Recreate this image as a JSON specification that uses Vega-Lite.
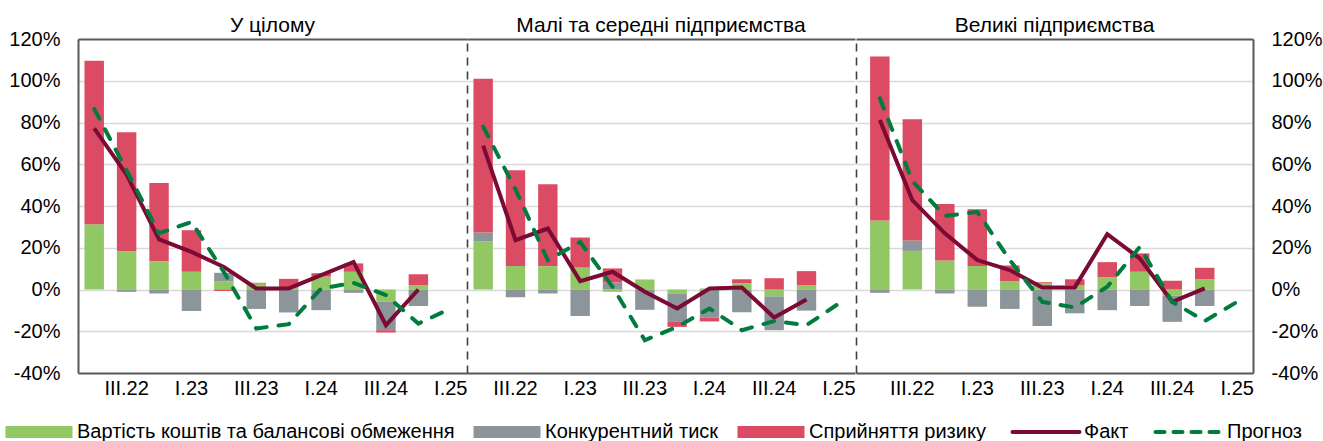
{
  "$schema": "https://vega.github.io/schema/vega-lite/v6.json",
  "padding": {"left": 8, "top": 15, "right": 5, "bottom": 0},
  "datasets": {
    "bars": [
      {"p": 1, "q": "II.22", "Вартість коштів та балансові обмеження": 31.3, "Конкурентний тиск": 0, "Сприйняття ризику": 78.3},
      {"p": 1, "q": "III.22", "Вартість коштів та балансові обмеження": 18.4, "Конкурентний тиск": -1.1, "Сприйняття ризику": 56.9},
      {"p": 1, "q": "IV.22", "Вартість коштів та балансові обмеження": 13.6, "Конкурентний тиск": -1.9, "Сприйняття ризику": 37.4},
      {"p": 1, "q": "I.23", "Вартість коштів та балансові обмеження": 8.5, "Конкурентний тиск": -10.3, "Сприйняття ризику": 19.9},
      {"p": 1, "q": "II.23", "Вартість коштів та балансові обмеження": 4.0, "Конкурентний тиск": 4.0, "Сприйняття ризику": -0.7},
      {"p": 1, "q": "III.23", "Вартість коштів та балансові обмеження": 2.8, "Конкурентний тиск": -9.3, "Сприйняття ризику": 0.4},
      {"p": 1, "q": "IV.23", "Вартість коштів та балансові обмеження": 1.2, "Конкурентний тиск": -11.0, "Сприйняття ризику": 3.9},
      {"p": 1, "q": "I.24", "Вартість коштів та балансові обмеження": 6.2, "Конкурентний тиск": -9.9, "Сприйняття ризику": 1.6},
      {"p": 1, "q": "II.24", "Вартість коштів та балансові обмеження": 8.5, "Конкурентний тиск": -1.6, "Сприйняття ризику": 4.0},
      {"p": 1, "q": "III.24", "Вартість коштів та балансові обмеження": -5.9, "Конкурентний тиск": -13.6, "Сприйняття ризику": -1.1},
      {"p": 1, "q": "IV.24", "Вартість коштів та балансові обмеження": 2.1, "Конкурентний тиск": -7.9, "Сприйняття ризику": 5.2},
      {"p": 2, "q": "II.22", "Вартість коштів та балансові обмеження": 23.0, "Конкурентний тиск": 4.3, "Сприйняття ризику": 73.6},
      {"p": 2, "q": "III.22", "Вартість коштів та балансові обмеження": 11.2, "Конкурентний тиск": -3.7, "Сприйняття ризику": 45.9},
      {"p": 2, "q": "IV.22", "Вартість коштів та балансові обмеження": 11.2, "Конкурентний тиск": -1.9, "Сприйняття ризику": 39.2},
      {"p": 2, "q": "I.23", "Вартість коштів та балансові обмеження": 10.5, "Конкурентний тиск": -12.7, "Сприйняття ризику": 14.4},
      {"p": 2, "q": "II.23", "Вартість коштів та балансові обмеження": -1.1, "Конкурентний тиск": 3.4, "Сприйняття ризику": 6.7},
      {"p": 2, "q": "III.23", "Вартість коштів та балансові обмеження": 4.8, "Конкурентний тиск": -9.4, "Сприйняття ризику": -0.3},
      {"p": 2, "q": "IV.23", "Вартість коштів та балансові обмеження": -2.1, "Конкурентний тиск": -13.4, "Сприйняття ризику": -2.4},
      {"p": 2, "q": "I.24", "Вартість коштів та балансові обмеження": 0.5, "Конкурентний тиск": -13.4, "Сприйняття ризику": -1.9},
      {"p": 2, "q": "II.24", "Вартість коштів та балансові обмеження": 3.0, "Конкурентний тиск": -10.9, "Сприйняття ризику": 1.9},
      {"p": 2, "q": "III.24", "Вартість коштів та балансові обмеження": -3.3, "Конкурентний тиск": -16.2, "Сприйняття ризику": 5.4},
      {"p": 2, "q": "IV.24", "Вартість коштів та балансові обмеження": 2.1, "Конкурентний тиск": -10.1, "Сприйняття ризику": 6.7},
      {"p": 3, "q": "II.22", "Вартість коштів та балансові обмеження": 33.1, "Конкурентний тиск": -1.6, "Сприйняття ризику": 78.5},
      {"p": 3, "q": "III.22", "Вартість коштів та балансові обмеження": 18.5, "Конкурентний тиск": 5.0, "Сприйняття ризику": 58.0},
      {"p": 3, "q": "IV.22", "Вартість коштів та балансові обмеження": 13.9, "Конкурентний тиск": -1.9, "Сприйняття ризику": 27.0},
      {"p": 3, "q": "I.23", "Вартість коштів та балансові обмеження": 11.3, "Конкурентний тиск": -8.3, "Сприйняття ризику": 27.1},
      {"p": 3, "q": "II.23", "Вартість коштів та балансові обмеження": 4.0, "Конкурентний тиск": -9.3, "Сприйняття ризику": 7.5},
      {"p": 3, "q": "III.23", "Вартість коштів та балансові обмеження": 2.9, "Конкурентний тиск": -17.5, "Сприйняття ризику": 0.6},
      {"p": 3, "q": "IV.23", "Вартість коштів та балансові обмеження": 2.1, "Конкурентний тиск": -11.4, "Сприйняття ризику": 2.8},
      {"p": 3, "q": "I.24", "Вартість коштів та балансові обмеження": 5.9, "Конкурентний тиск": -9.9, "Сприйняття ризику": 7.2},
      {"p": 3, "q": "II.24", "Вартість коштів та балансові обмеження": 8.5, "Конкурентний тиск": -7.9, "Сприйняття ризику": 8.8},
      {"p": 3, "q": "III.24", "Вартість коштів та балансові обмеження": -3.0, "Конкурентний тиск": -12.5, "Сприйняття ризику": 4.2},
      {"p": 3, "q": "IV.24", "Вартість коштів та балансові обмеження": 4.9, "Конкурентний тиск": -7.9, "Сприйняття ризику": 5.5}
    ],
    "lines": [
      {"p": 1, "q": "II.22", "fact": 77.2, "fc": 86.5},
      {"p": 1, "q": "III.22", "fact": 55.0, "fc": 57.0},
      {"p": 1, "q": "IV.22", "fact": 24.0, "fc": 26.9},
      {"p": 1, "q": "I.23", "fact": 18.0, "fc": 32.4},
      {"p": 1, "q": "II.23", "fact": 10.8, "fc": 8.4},
      {"p": 1, "q": "III.23", "fact": 0.5, "fc": -18.7},
      {"p": 1, "q": "IV.23", "fact": 0.5, "fc": -16.6},
      {"p": 1, "q": "I.24", "fact": 6.9, "fc": 0.5},
      {"p": 1, "q": "II.24", "fact": 13.2, "fc": 3.2},
      {"p": 1, "q": "III.24", "fact": -17.1, "fc": -2.7},
      {"p": 1, "q": "IV.24", "fact": 0.0, "fc": -16.3},
      {"p": 1, "q": "I.25", "fact": null, "fc": -9.1},
      {"p": 2, "q": "II.22", "fact": 68.9, "fc": 78.0},
      {"p": 2, "q": "III.22", "fact": 23.6, "fc": 48.0},
      {"p": 2, "q": "IV.22", "fact": 29.2, "fc": 14.0},
      {"p": 2, "q": "I.23", "fact": 4.0, "fc": 22.8},
      {"p": 2, "q": "II.23", "fact": 8.5, "fc": 1.3},
      {"p": 2, "q": "III.23", "fact": -1.1, "fc": -24.3},
      {"p": 2, "q": "IV.23", "fact": -9.1, "fc": -17.9},
      {"p": 2, "q": "I.24", "fact": 0.5, "fc": -9.1},
      {"p": 2, "q": "II.24", "fact": 1.0, "fc": -19.5},
      {"p": 2, "q": "III.24", "fact": -13.4, "fc": -15.1},
      {"p": 2, "q": "IV.24", "fact": -4.8, "fc": -17.1},
      {"p": 2, "q": "I.25", "fact": null, "fc": -6.7},
      {"p": 3, "q": "II.22", "fact": 81.2, "fc": 91.6},
      {"p": 3, "q": "III.22", "fact": 42.8, "fc": 52.0},
      {"p": 3, "q": "IV.22", "fact": 26.9, "fc": 35.2},
      {"p": 3, "q": "I.23", "fact": 14.1, "fc": 37.2},
      {"p": 3, "q": "II.23", "fact": 9.3, "fc": 14.1},
      {"p": 3, "q": "III.23", "fact": 1.0, "fc": -5.9},
      {"p": 3, "q": "IV.23", "fact": 1.0, "fc": -8.6},
      {"p": 3, "q": "I.24", "fact": 26.5, "fc": 1.3},
      {"p": 3, "q": "II.24", "fact": 14.9, "fc": 20.4},
      {"p": 3, "q": "III.24", "fact": -5.9, "fc": -5.9},
      {"p": 3, "q": "IV.24", "fact": 0.5, "fc": -15.1},
      {"p": 3, "q": "I.25", "fact": null, "fc": -5.9}
    ]
  },
  "config": {
    "font": "Liberation Sans",
    "view": {"stroke": null},
    "axis": {
      "labelFontSize": 20,
      "labelColor": "#000000",
      "ticks": false,
      "gridColor": {"condition": {"test": "datum.value == 120", "value": "#595959"}, "value": "#D9D9D9"},
      "gridWidth": {"condition": {"test": "datum.value == 120", "value": 2}, "value": 1.3},
      "gridOpacity": {"condition": {"test": "datum.value == -40", "value": 0}, "value": 1},
      "domainColor": "#595959",
      "domainWidth": 2
    },
    "title": {"fontSize": 21, "fontWeight": "normal", "color": "#000000", "font": "Liberation Sans"},
    "legend": {
      "orient": "bottom",
      "direction": "horizontal",
      "title": null,
      "labelFontSize": 20,
      "labelColor": "#000000",
      "labelLimit": 600,
      "columnPadding": 18,
      "symbolSize": 4489,
      "labelOffset": 28,
      "offset": 24,
      "symbolType": "M-1,-0.18H1V0.18H-1Z",
      "layout": {"bottom": {"anchor": "middle"}}
    }
  },
  "spacing": 0,
  "resolve": {"scale": {"color": "shared"}, "legend": {"color": "shared"}},
  "hconcat": [
    {
      "width": 389,
      "height": 334,
      "title": {"text": "У цілому", "offset": -7},
      "resolve": {"axis": {"x": "independent", "y": "independent"}},
      "layer": [
        {
          "data": {"name": "bars"},
          "transform": [
            {"filter": "datum.p == 1"},
            {"fold": ["Вартість коштів та балансові обмеження", "Конкурентний тиск", "Сприйняття ризику"], "as": ["f", "v"]}
          ],
          "mark": {"type": "bar"},
          "encoding": {
            "x": {"field": "q", "type": "ordinal",
              "scale": {"domain": ["II.22","III.22","IV.22","I.23","II.23","III.23","IV.23","I.24","II.24","III.24","IV.24","I.25"], "paddingInner": 0.4, "paddingOuter": 0.2},
              "axis": {"orient": "bottom", "title": null, "labelAngle": 0, "labelPadding": 5, "grid": false,
                "labelExpr": "indexof(['III.22','I.23','III.23','I.24','III.24','I.25'], datum.value) >= 0 ? datum.value : ''"}},
            "y": {"field": "v", "type": "quantitative", "stack": "zero",
              "scale": {"domain": [-40, 120], "nice": false},
              "axis": {"orient": "left", "title": null, "grid": true, "values": [-40,-20,0,20,40,60,80,100,120], "labelExpr": "datum.value + '%'", "labelPadding": 18}},
            "color": {"field": "f", "type": "nominal",
              "scale": {"domain": ["Вартість коштів та балансові обмеження", "Конкурентний тиск", "Сприйняття ризику", "Факт", "Прогноз"],
                        "range": ["#92C863", "#8C9599", "#DC4B64", "#7B0A34", "#007C3E"]},
              "legend": {
                "encode": {"symbols": {"update": {
                  "shape": {"signal": "datum.value === 'Факт' || datum.value === 'Прогноз' ? 'stroke' : 'M-1,-0.18H1V0.18H-1Z'"},
                  "fill": {"scale": "color", "field": "value"},
                  "stroke": {"scale": "color", "field": "value"},
                  "strokeWidth": {"signal": "datum.value === 'Факт' || datum.value === 'Прогноз' ? 4 : 0"},
                  "strokeDash": {"signal": "datum.value === 'Прогноз' ? [9, 9] : [1, 0]"},
                  "strokeCap": {"value": "round"},
                  "opacity": {"value": 1}
                }}}
              }},
            "order": {"field": "f", "sort": "ascending"}
          }
        },
        {
          "data": {"name": "lines"},
          "transform": [{"filter": "datum.p == 1"}],
          "mark": {"type": "line", "strokeWidth": 4},
          "encoding": {
            "x": {"field": "q", "type": "ordinal", "axis": null},
            "y": {"field": "fact", "type": "quantitative", "axis": null},
            "color": {"datum": "Факт", "type": "nominal"}
          }
        },
        {
          "data": {"name": "lines"},
          "transform": [{"filter": "datum.p == 1"}],
          "mark": {"type": "line", "strokeWidth": 4, "strokeDash": [11, 12], "strokeCap": "round"},
          "encoding": {
            "x": {"field": "q", "type": "ordinal", "axis": null},
            "y": {"field": "fc", "type": "quantitative", "axis": null},
            "color": {"datum": "Прогноз", "type": "nominal"}
          }
        }
      ]
    },
    {
      "width": 388,
      "height": 334,
      "title": {"text": "Малі та середні підприємства", "offset": 3},
      "resolve": {"axis": {"x": "independent", "y": "independent"}},
      "layer": [
        {
          "data": {"name": "bars"},
          "transform": [
            {"filter": "datum.p == 2"},
            {"fold": ["Вартість коштів та балансові обмеження", "Конкурентний тиск", "Сприйняття ризику"], "as": ["f", "v"]}
          ],
          "mark": {"type": "bar"},
          "encoding": {
            "x": {"field": "q", "type": "ordinal",
              "scale": {"domain": ["II.22","III.22","IV.22","I.23","II.23","III.23","IV.23","I.24","II.24","III.24","IV.24","I.25"], "paddingInner": 0.4, "paddingOuter": 0.2},
              "axis": {"orient": "bottom", "title": null, "labelAngle": 0, "labelPadding": 5, "grid": false,
                "labelExpr": "indexof(['III.22','I.23','III.23','I.24','III.24','I.25'], datum.value) >= 0 ? datum.value : ''"}},
            "y": {"field": "v", "type": "quantitative", "stack": "zero",
              "scale": {"domain": [-40, 120], "nice": false},
              "axis": {"orient": "left", "title": null, "grid": true, "labels": false, "values": [-40,-20,0,20,40,60,80,100,120],
                "domainDash": [8, 6], "domainColor": "#404040", "domainWidth": 1.6}},
            "color": {"field": "f", "type": "nominal"},
            "order": {"field": "f", "sort": "ascending"}
          }
        },
        {
          "data": {"name": "lines"},
          "transform": [{"filter": "datum.p == 2"}],
          "mark": {"type": "line", "strokeWidth": 4},
          "encoding": {
            "x": {"field": "q", "type": "ordinal", "axis": null},
            "y": {"field": "fact", "type": "quantitative", "axis": null},
            "color": {"datum": "Факт", "type": "nominal"}
          }
        },
        {
          "data": {"name": "lines"},
          "transform": [{"filter": "datum.p == 2"}],
          "mark": {"type": "line", "strokeWidth": 4, "strokeDash": [11, 12], "strokeCap": "round"},
          "encoding": {
            "x": {"field": "q", "type": "ordinal", "axis": null},
            "y": {"field": "fc", "type": "quantitative", "axis": null},
            "color": {"datum": "Прогноз", "type": "nominal"}
          }
        }
      ]
    },
    {
      "width": 397,
      "height": 334,
      "title": {"text": "Великі підприємства", "offset": -7},
      "resolve": {"axis": {"x": "independent", "y": "independent"}},
      "layer": [
        {
          "data": {"name": "bars"},
          "transform": [
            {"filter": "datum.p == 3"},
            {"fold": ["Вартість коштів та балансові обмеження", "Конкурентний тиск", "Сприйняття ризику"], "as": ["f", "v"]}
          ],
          "mark": {"type": "bar"},
          "encoding": {
            "x": {"field": "q", "type": "ordinal",
              "scale": {"domain": ["II.22","III.22","IV.22","I.23","II.23","III.23","IV.23","I.24","II.24","III.24","IV.24","I.25"], "paddingInner": 0.4, "paddingOuter": 0.31, "align": 0.7},
              "axis": {"orient": "bottom", "title": null, "labelAngle": 0, "labelPadding": 5, "grid": false,
                "labelExpr": "indexof(['III.22','I.23','III.23','I.24','III.24','I.25'], datum.value) >= 0 ? datum.value : ''"}},
            "y": {"field": "v", "type": "quantitative", "stack": "zero",
              "scale": {"domain": [-40, 120], "nice": false},
              "axis": {"orient": "left", "title": null, "grid": true, "labels": false, "values": [-40,-20,0,20,40,60,80,100,120],
                "domainDash": [8, 6], "domainColor": "#404040", "domainWidth": 1.6}},
            "color": {"field": "f", "type": "nominal"},
            "order": {"field": "f", "sort": "ascending"}
          }
        },
        {
          "data": {"name": "lines"},
          "transform": [{"filter": "datum.p == 3"}],
          "mark": {"type": "line", "strokeWidth": 4},
          "encoding": {
            "x": {"field": "q", "type": "ordinal", "axis": null},
            "y": {"field": "fact", "type": "quantitative",
              "axis": {"orient": "right", "title": null, "grid": false, "values": [-40,-20,0,20,40,60,80,100,120], "labelExpr": "datum.value + '%'", "labelPadding": 18}},
            "color": {"datum": "Факт", "type": "nominal"}
          }
        },
        {
          "data": {"name": "lines"},
          "transform": [{"filter": "datum.p == 3"}],
          "mark": {"type": "line", "strokeWidth": 4, "strokeDash": [11, 12], "strokeCap": "round"},
          "encoding": {
            "x": {"field": "q", "type": "ordinal", "axis": null},
            "y": {"field": "fc", "type": "quantitative", "axis": null},
            "color": {"datum": "Прогноз", "type": "nominal"}
          }
        }
      ]
    }
  ]
}
